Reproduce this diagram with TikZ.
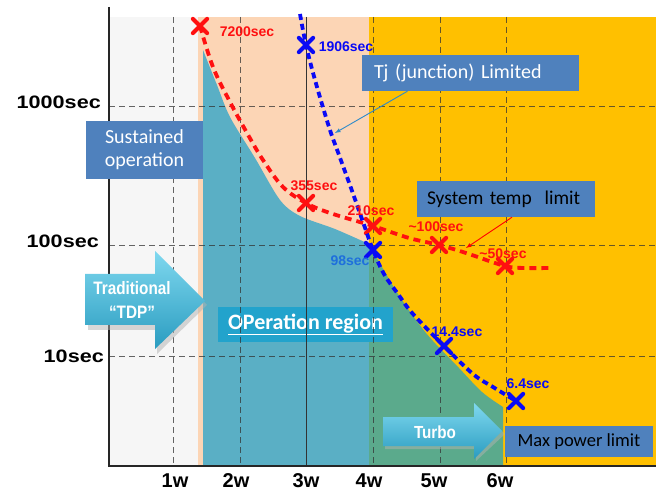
\documentclass[tikz,border=0pt]{standalone}
\usepackage{fontspec}
\usepackage{graphicx}
\setmainfont{Liberation Sans}
\newfontfamily\calfont{Carlito}
\usetikzlibrary{shapes.misc,positioning}

\definecolor{plotgray}{HTML}{F6F6F6}
\definecolor{peach}{HTML}{FCD5B5}
\definecolor{amber}{HTML}{FFC000}
\definecolor{opteal}{HTML}{5AAFC5}
\definecolor{turbogreen}{HTML}{5BAA8C}
\definecolor{boxblue}{HTML}{4F81BD}
\definecolor{regionblue}{HTML}{22A3CC}
\definecolor{arrowlight}{HTML}{7FD8EF}
\definecolor{arrowdark}{HTML}{2A9CC0}
\definecolor{limitred}{HTML}{FF1010}
\definecolor{limitblue}{HTML}{0A0AF5}
\definecolor{softblue}{HTML}{1E6FDC}
\definecolor{pointerblue}{HTML}{2E8BC9}

\begin{document}
\begin{tikzpicture}[x=1pt, y=-1pt]
    % Define styles
    \tikzstyle{ylabel} = [anchor=east, inner sep=0pt, font=\fontsize{18}{20}\selectfont\bfseries]
    \tikzstyle{wlabel} = [inner sep=0pt, font=\fontsize{20}{22}\selectfont\bfseries]
    \tikzstyle{gridline} = [black!80, opacity=0.75, line width=1pt, dash pattern=on 6pt off 4pt]
    \tikzstyle{reddash} = [limitred, line width=3.8pt, dash pattern=on 7pt off 5pt]
    \tikzstyle{bluedash} = [limitblue, line width=3.8pt, dash pattern=on 6pt off 4pt]
    \tikzstyle{xmark} = [shape=cross out, draw, line width=4.2pt, line cap=round, minimum size=10pt, inner sep=0pt]
    \tikzstyle{pointlbl} = [inner sep=0pt, font=\fontsize{14}{16}\selectfont\bfseries]
    \tikzstyle{infobox} = [rectangle, fill=boxblue, inner ysep=0pt, font=\calfont\fontsize{20}{23}\selectfont]
    \tikzstyle{fatarrow} = [top color=arrowlight, bottom color=arrowdark]
    \tikzstyle{arrowtext} = [inner sep=0pt, white, align=center, font=\fontsize{18}{24}\selectfont\bfseries]
    \tikzstyle{pointer} = [draw, -latex, line width=0.9pt]

    \useasboundingbox (0,0) rectangle (656,494);

    % Background zones
    \fill[plotgray] (109,17) rectangle (198,466);
    \fill[peach] (198,17) rectangle (369,466);
    \fill[amber] (369,17) rectangle (656,466);

    % Operation region and turbo part
    \fill[opteal] (203,466) -- plot[smooth, tension=0.5] coordinates {(203,50) (217,85) (230,117) (255,158) (280,200) (300,216) (335,229) (369,244)} -- (369,466) -- cycle;
    \fill[turbogreen] (369,466) -- (369,244) -- plot[smooth, tension=0.55] coordinates {(373,251) (398,294) (426,333) (459,368) (482,392) (503,407)} -- (503,466) -- cycle;

    \node[rectangle, fill=regionblue, minimum width=175pt, minimum height=35pt, inner sep=0pt, text=white,
          font=\calfont\fontsize{22}{24}\selectfont\bfseries] (opreg) at (305.5,324.5) {\underline{OPeration region}};

    % Grid
    \draw[gridline] (109,107) -- (656,107);
    \draw[gridline] (109,246) -- (656,246);
    \draw[gridline] (109,356) -- (656,356);
    \draw[gridline] (173,17) -- (173,466);
    \draw[gridline] (240,17) -- (240,466);
    \draw[black!80, line width=0.8pt] (306,17) -- (306,466);
    \draw[gridline] (373,17) -- (373,466);
    \draw[gridline] (440,17) -- (440,466);
    \draw[gridline] (506,17) -- (506,466);

    % Axes
    \draw[black!85, line width=1.2pt] (109,7) -- (109,466) -- (656,466);

    \node[ylabel] (t1000) at (101,102) {\scalebox{1.2}[1]{1000sec}};
    \node[ylabel] (t100) at (99,241) {\scalebox{1.2}[1]{100sec}};
    \node[ylabel] (t10) at (104,356) {\scalebox{1.2}[1]{10sec}};

    \node[wlabel] (w1) at (175,481) {1w};
    \node[wlabel] (w2) at (236,481) {2w};
    \node[wlabel] (w3) at (306,481) {3w};
    \node[wlabel] (w4) at (369,481) {4w};
    \node[wlabel] (w5) at (434,481) {5w};
    \node[wlabel] (w6) at (500,481) {6w};

    % Big arrows
    \fill[black!30, opacity=0.5] (88,279) -- (157,279) -- (157,255) -- (207,305) -- (157,354) -- (157,330) -- (88,330) -- cycle;
    \shade[fatarrow] (85,274) -- (155,274) -- (155,251) -- (205,301) -- (155,349) -- (155,325) -- (85,325) -- cycle;
    \node[arrowtext] (tdp) at (132,300) {\scalebox{0.85}[1]{Traditional}\\\scalebox{0.85}[1]{“TDP”}};

    \fill[black!30, opacity=0.5] (385,420) -- (476,420) -- (476,406) -- (505,434) -- (476,461) -- (476,449) -- (385,449) -- cycle;
    \shade[fatarrow] (383,417) -- (474,417) -- (474,403) -- (502,431) -- (474,459) -- (474,446) -- (383,446) -- cycle;
    \node[arrowtext, font=\fontsize{17.5}{20}\selectfont\bfseries] (turbo) at (435,432) {\scalebox{0.87}[1]{Turbo}};

    % Limit points
    \node[xmark, limitred] (r7200) at (200,26) {};
    \node[xmark, limitred] (r355) at (306,203) {};
    \node[xmark, limitred] (r210) at (373,226) {};
    \node[xmark, limitred] (r100) at (439,245) {};
    \node[xmark, limitred] (r50) at (505,266) {};
    \node[xmark, limitblue] (b1906) at (306,45) {};
    \node[xmark, limitblue] (b98) at (373,250) {};
    \node[xmark, limitblue] (b14) at (444,346) {};
    \node[xmark, limitblue] (b6) at (516,401) {};

    % Limit curves
    \draw[reddash] plot[smooth, tension=0.6] coordinates {(r7200.center) (213,67) (230,102) (247,133) (263,160) (283,187) (r355.center) (330,213) (r210.center) (409,238) (r100.center) (466,253) (r50.center) (526,268) (550,268)};
    \draw[bluedash] plot[smooth, tension=0.6] coordinates {(300,14) (b1906.center) (315,80) (329,127) (339,155) (351,188) (363,222) (b98.center) (384,274) (398,294) (413,314) (b14.center) (473,374) (493,387) (b6.center)};

    \node[pointlbl, limitred] (l7200) at (247,32) {7200sec};
    \node[pointlbl, limitred] (l355) at (314,186) {355sec};
    \node[pointlbl, limitred] (l210) at (371,211) {210sec};
    \node[pointlbl, limitred] (l100) at (436,227) {\textasciitilde100sec};
    \node[pointlbl, limitred] (l50) at (503,254) {\textasciitilde50sec};
    \node[pointlbl, limitblue] (l1906) at (346,47) {1906sec};
    \node[pointlbl, softblue] (l98) at (350,261) {98sec};
    \node[pointlbl, limitblue] (l14) at (457,332) {14.4sec};
    \node[pointlbl, limitblue] (l6) at (528,384) {6.4sec};

    % Place boxes
    \node[infobox, text=white, text width=117pt, inner xsep=0pt, minimum height=58pt, align=center] (sustained) at (144.5,150) {Sustained\\operation};
    \node[infobox, text=white, text width=193pt, inner xsep=12pt, minimum height=36pt, align=left] (tj) at (470.5,73) {Tj (junction) Limited};
    \node[infobox, text=black, text width=166pt, inner xsep=6pt, minimum height=36pt, align=left, font=\calfont\fontsize{19.5}{22}\selectfont] (sys) at (506,199) {\hspace*{4pt}System temp\ \ limit};
    \node[infobox, text=black, minimum width=148pt, minimum height=31pt, inner xsep=0pt, font=\calfont\fontsize{18.5}{20}\selectfont] (maxp) at (579,441.5) {Max power limit};

    % Draw pointers
    \coordinate (tjtip) at (335,133);
    \coordinate (systip) at (466,248);
    \path [pointer, pointerblue] ([xshift=-63pt]tj.south) -- (tjtip);
    \path [pointer, red] ([xshift=6pt]sys.south) -- (systip);
\end{tikzpicture}
\end{document}
